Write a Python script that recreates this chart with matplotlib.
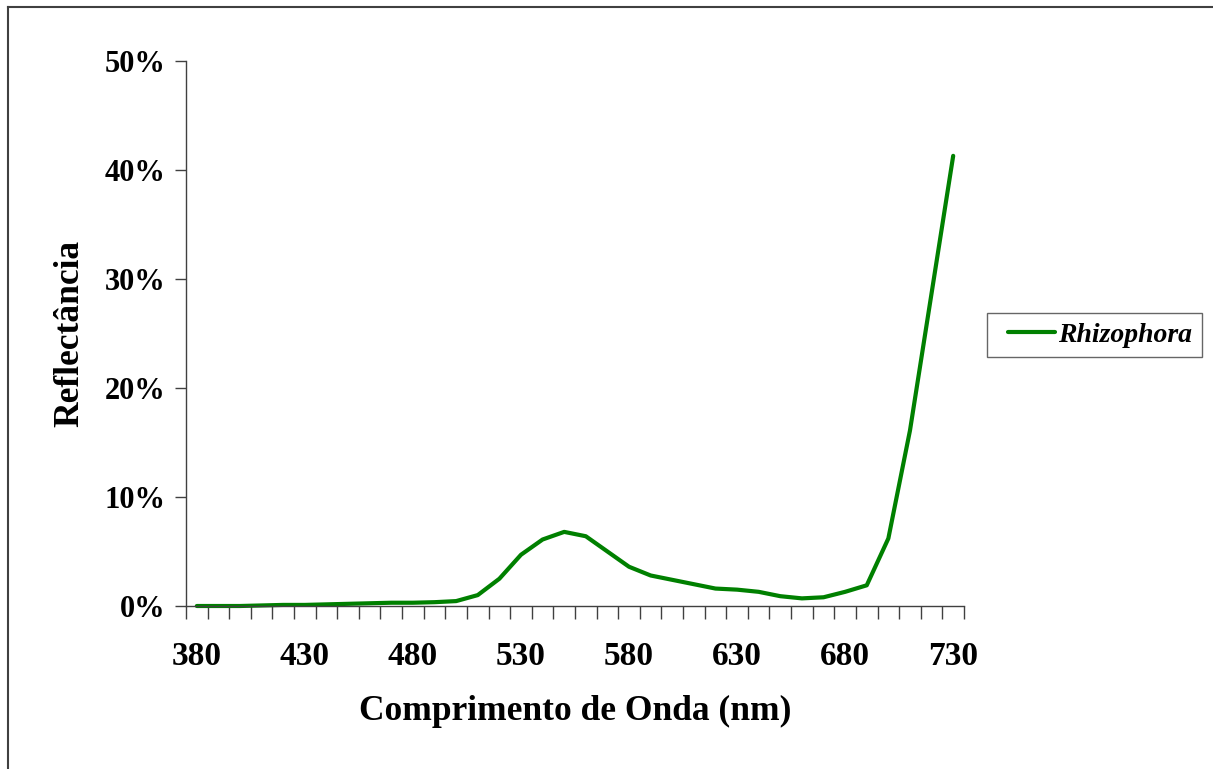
import numpy as np
import matplotlib.pyplot as plt
from matplotlib.lines import Line2D
from matplotlib.legend_handler import HandlerLine2D
from matplotlib.ticker import FixedLocator, FuncFormatter

# wavelengths (nm) and reflectance (%)
wavelength = list(range(380, 731, 10))
reflect = [0.0, 0.0, 0.0, 0.05, 0.1, 0.1, 0.15, 0.2, 0.25, 0.3,
           0.3, 0.35, 0.45, 1.0, 2.5, 4.7, 6.1, 6.8, 6.4, 5.0,
           3.6, 2.8, 2.4, 2.0, 1.6, 1.5, 1.3, 0.9, 0.7, 0.8,
           1.3, 1.9, 6.2, 16.1, 28.7, 41.3]
xlabels = [380, 430, 480, 530, 580, 630, 680, 730]
yticks = [0, 10, 20, 30, 40, 50]

plt.rcParams['font.family'] = ['Liberation Serif', 'DejaVu Serif']
plt.rcParams['font.weight'] = 'bold'

W, H = 1213, 769
fig = plt.figure(figsize=(W / 100, H / 100), dpi=100)
ax = fig.add_axes([186 / W, 1 - 606 / H, (964 - 186) / W, (606 - 61) / H])

line, = ax.plot(wavelength, reflect, '-', color='#008000', lw=3.0, label='Rhizophora',
                solid_joinstyle='round', solid_capstyle='round', clip_on=False)

ax.set_xlim(375, 735)
ax.set_ylim(0, 50)
ax.xaxis.set_major_locator(FixedLocator(xlabels))
ax.xaxis.set_minor_locator(FixedLocator(np.arange(375, 736, 10)))
ax.tick_params(axis='x', which='major', length=0, pad=25, labelsize=24)
ax.tick_params(axis='x', which='minor', length=9, width=1, color='#404040')
ax.set_yticks(yticks)
ax.yaxis.set_major_formatter(FuncFormatter(lambda v, p: f'{v:.0f}%'))
ax.tick_params(axis='y', which='major', length=8, width=1, color='#404040',
               labelsize=22, pad=7)

for s in ['top', 'right']:
    ax.spines[s].set_visible(False)
for s in ['left', 'bottom']:
    ax.spines[s].set_color('#404040')
    ax.spines[s].set_linewidth(1)

ax.set_xlabel('Comprimento de Onda (nm)', fontsize=25.5, fontweight='bold', labelpad=17)
ax.set_ylabel('Reflectância', fontsize=25.5, fontweight='bold', labelpad=13)

leg = ax.legend(loc='center left', bbox_to_anchor=(987 / W, 1 - 335 / H),
                bbox_transform=fig.transFigure, frameon=True, fancybox=False,
                prop={'family': 'Liberation Serif', 'style': 'italic',
                      'weight': 'bold', 'size': 20},
                handlelength=2.1, handletextpad=0.1, borderpad=0.35,
                borderaxespad=0, handler_map={line: HandlerLine2D(xpad=0.4)})
leg.get_frame().set_edgecolor('#404040')
leg.get_frame().set_linewidth(1)

# outer chart-area border (top and left edges visible)
fig.add_artist(Line2D([8 / W, 1], [1 - 7 / H, 1 - 7 / H], color='#404040', lw=1.5,
                      transform=fig.transFigure))
fig.add_artist(Line2D([8 / W, 8 / W], [0, 1 - 7 / H], color='#404040', lw=1.5,
                      transform=fig.transFigure))

plt.savefig('out.png', dpi=100)
